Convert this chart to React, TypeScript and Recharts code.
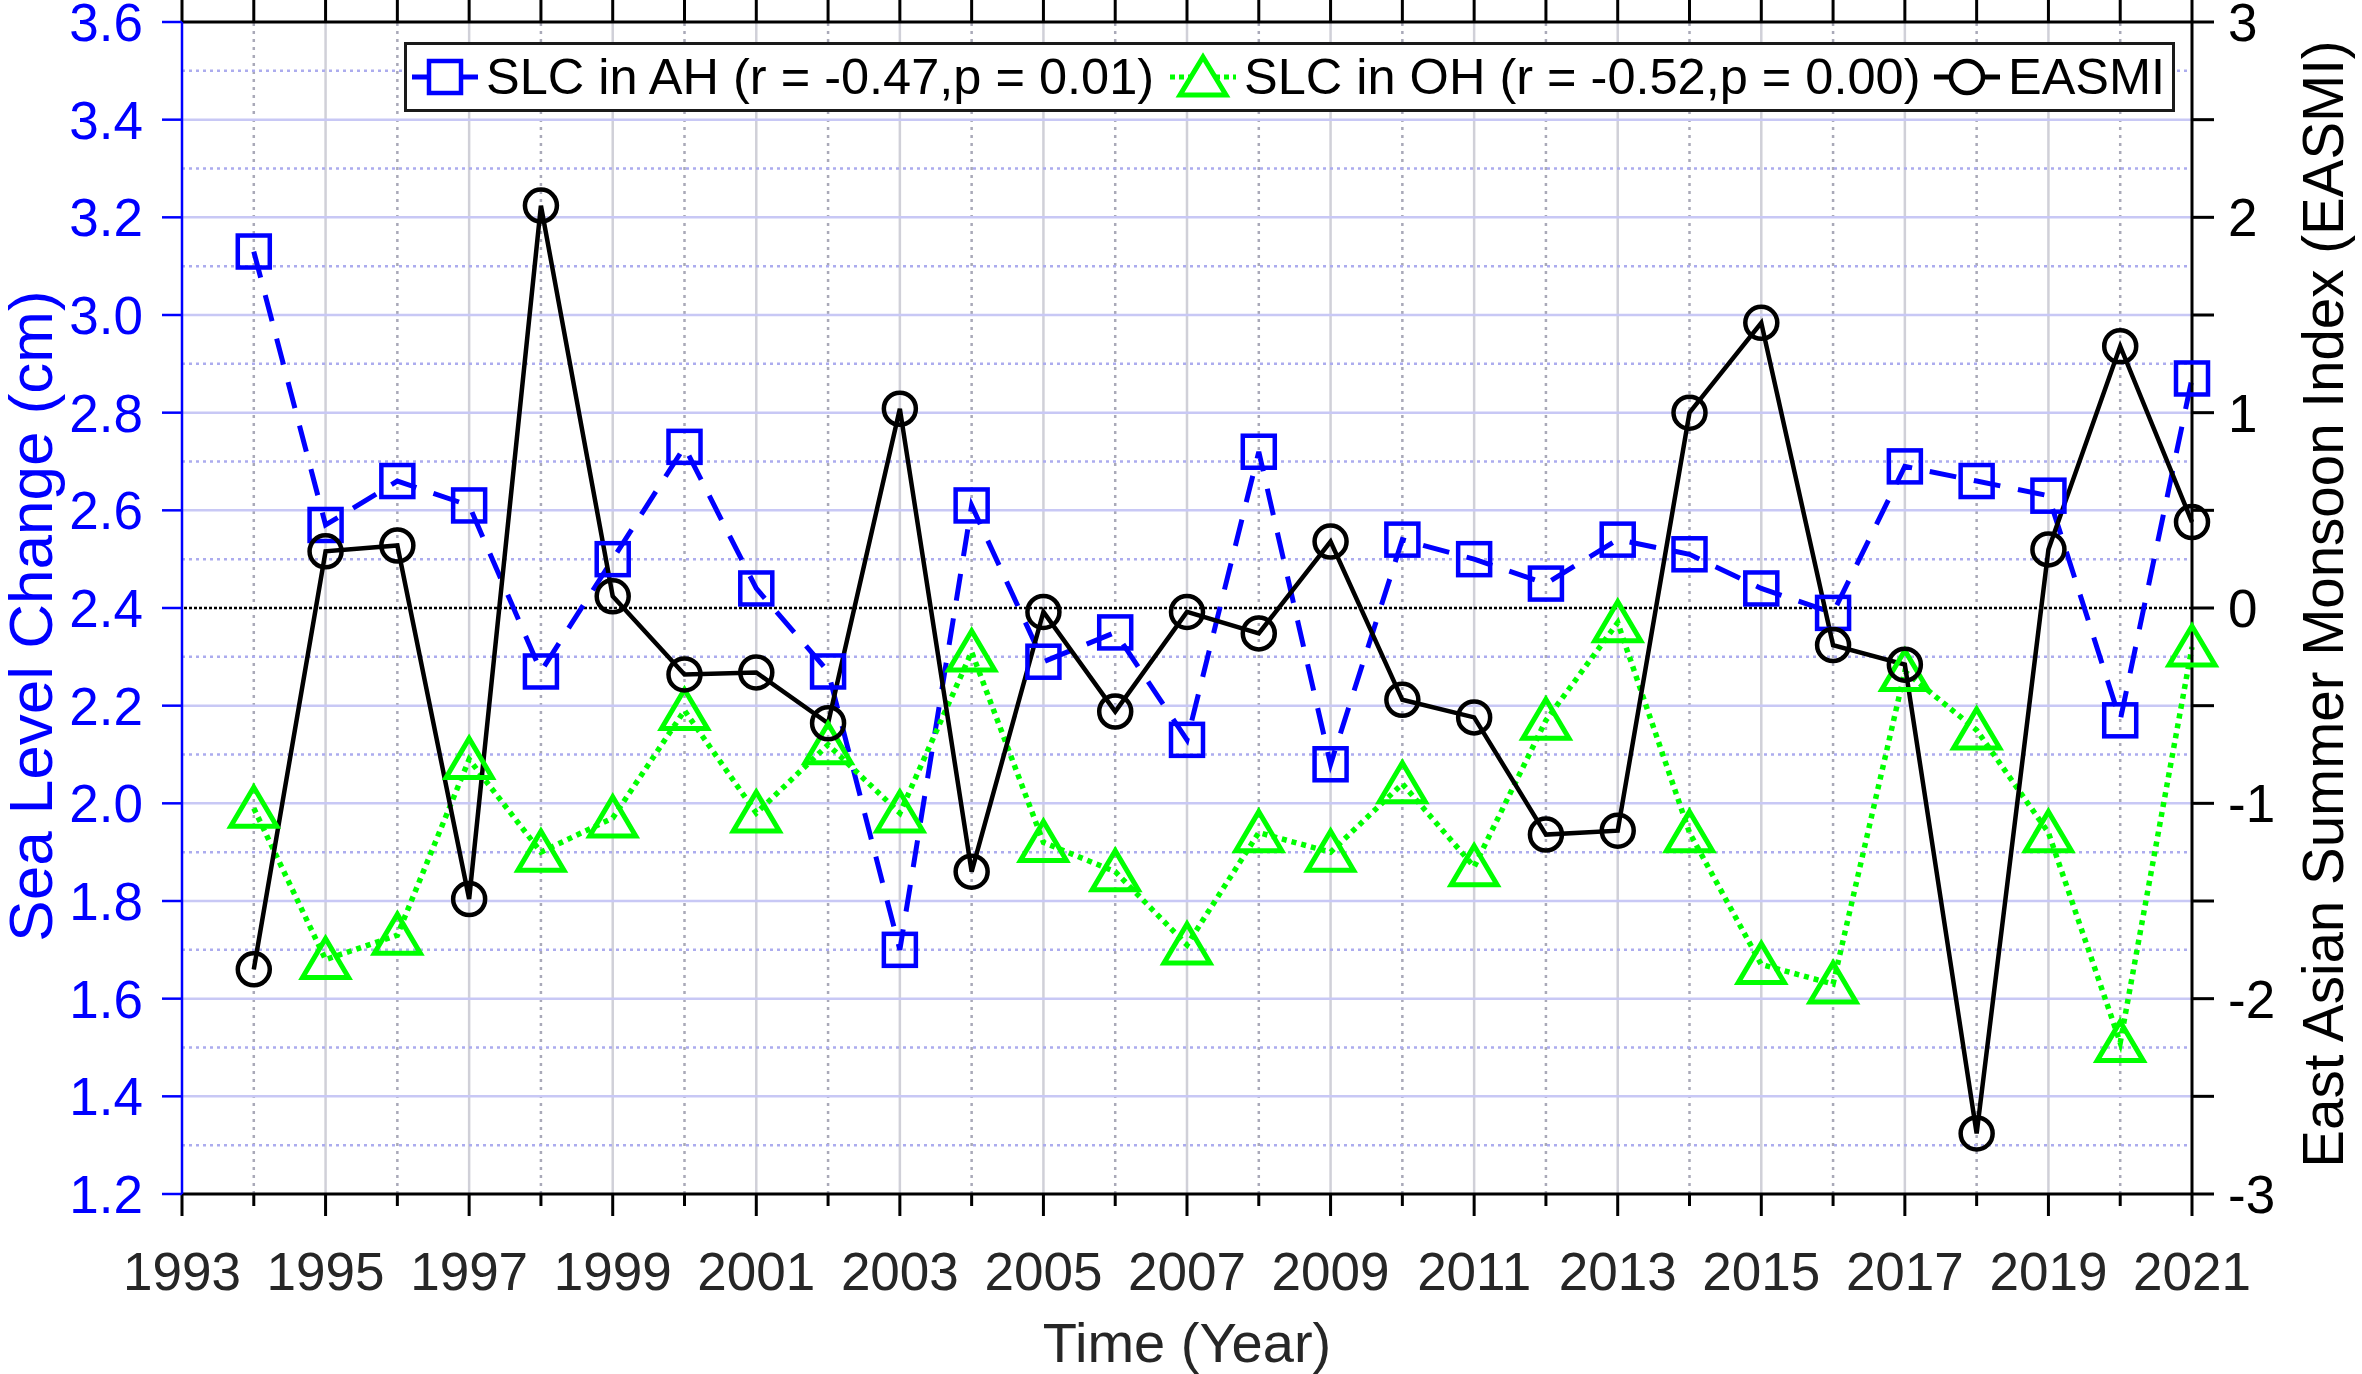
import React from 'react';
import { ComposedChart, Line, XAxis, YAxis, ReferenceLine, Label } from 'recharts';

// values
const years = [
  1994, 1995, 1996, 1997, 1998, 1999, 2000, 2001, 2002, 2003, 2004, 2005, 2006, 2007,
  2008, 2009, 2010, 2011, 2012, 2013, 2014, 2015, 2016, 2017, 2018, 2019, 2020, 2021,
];
const slcAH = [
  3.13, 2.57, 2.66, 2.61, 2.27, 2.5, 2.73, 2.44, 2.27, 1.7, 2.61, 2.29, 2.35, 2.13,
  2.72, 2.08, 2.54, 2.5, 2.45, 2.54, 2.51, 2.44, 2.39, 2.69, 2.66, 2.63, 2.17, 2.87,
];
const slcOH = [
  1.99, 1.68, 1.73, 2.09, 1.9, 1.97, 2.19, 1.98, 2.12, 1.98, 2.31, 1.92, 1.86, 1.71,
  1.94, 1.9, 2.04, 1.87, 2.17, 2.37, 1.94, 1.67, 1.63, 2.27, 2.15, 1.94, 1.51, 2.32,
];
const easmi = [
  -1.85, 0.29, 0.32, -1.49, 2.06, 0.06, -0.34, -0.33, -0.59, 1.02, -1.35, -0.02, -0.53, -0.02,
  -0.13, 0.34, -0.47, -0.56, -1.16, -1.14, 1.0, 1.46, -0.19, -0.29, -2.69, 0.3, 1.34, 0.44,
];

const yearTicks = [
  1993, 1994, 1995, 1996, 1997, 1998, 1999, 2000, 2001, 2002, 2003, 2004, 2005, 2006, 2007,
  2008, 2009, 2010, 2011, 2012, 2013, 2014, 2015, 2016, 2017, 2018, 2019, 2020, 2021,
];
const leftTicks = [1.2, 1.4, 1.6, 1.8, 2.0, 2.2, 2.4, 2.6, 2.8, 3.0, 3.2, 3.4, 3.6];
const rightTicks = [-3, -2.5, -2, -1.5, -1, -0.5, 0, 0.5, 1, 1.5, 2, 2.5, 3];
const gridMajorY = [1.4, 1.6, 1.8, 2.0, 2.2, 2.6, 2.8, 3.0, 3.2, 3.4];
const gridMinorY = [1.3, 1.5, 1.7, 1.9, 2.1, 2.3, 2.5, 2.7, 2.9, 3.1, 3.3, 3.5];
const gridMajorX = [1995, 1997, 1999, 2001, 2003, 2005, 2007, 2009, 2011, 2013, 2015, 2017, 2019];
const gridMinorX = [1994, 1996, 1998, 2000, 2002, 2004, 2006, 2008, 2010, 2012, 2014, 2016, 2018, 2020];

const data = years.map((year, i) => ({ year, ah: slcAH[i], oh: slcOH[i], easmi: easmi[i] }));

const FONT = '"Liberation Sans", Arial, Helvetica, sans-serif';
const BLUE = '#0000ff';
const GREEN = '#00ff00';
const TEXT = '#262626';

const BottomTick = (props: any) => {
  const { x, y, payload } = props;
  const major = payload.value % 2 === 1;
  return (
    <g>
      <line x1={x} y1={y} x2={x} y2={y + (major ? 22 : 12)} stroke="#000" strokeWidth={3} />
      {major && (
        <text x={x} y={y + 96} textAnchor="middle" fontSize={53} fontFamily={FONT} fill={TEXT}>
          {payload.value}
        </text>
      )}
    </g>
  );
};

const TopTick = (props: any) => {
  const { x, y } = props;
  return <line x1={x} y1={y} x2={x} y2={y - 22} stroke="#000" strokeWidth={3} />;
};

const LeftTick = (props: any) => {
  const { x, y, payload } = props;
  return (
    <g>
      <line x1={x - 20} y1={y} x2={x} y2={y} stroke={BLUE} strokeWidth={2.5} />
      <text x={x - 39} y={y} dy="0.36em" textAnchor="end" fontSize={53} fontFamily={FONT} fill={BLUE}>
        {Number(payload.value).toFixed(1)}
      </text>
    </g>
  );
};

const RightTick = (props: any) => {
  const { x, y, payload } = props;
  const v = Number(payload.value);
  return (
    <g>
      <line x1={x} y1={y} x2={x + 22} y2={y} stroke="#000" strokeWidth={3} />
      {Number.isInteger(v) && (
        <text x={x + 36} y={y} dy="0.36em" textAnchor="start" fontSize={53} fontFamily={FONT} fill="#000">
          {v}
        </text>
      )}
    </g>
  );
};

const LeftTitle = (props: any) => {
  const vb = props.viewBox || { x: 0, y: 22, width: 182, height: 1172 };
  const cx = vb.x + 52;
  const cy = vb.y + vb.height / 2 + 8;
  return (
    <text x={cx} y={cy} transform={`rotate(-90 ${cx} ${cy})`} textAnchor="middle" fontSize={62} fontFamily={FONT} fill={BLUE}>
      Sea Level Change (cm)
    </text>
  );
};

const RightTitle = (props: any) => {
  const vb = props.viewBox || { x: 2192, y: 22, width: 170, height: 1172 };
  const cx = vb.x + 151;
  const cy = vb.y + vb.height / 2 - 4;
  return (
    <text x={cx} y={cy} transform={`rotate(-90 ${cx} ${cy})`} textAnchor="middle" fontSize={56.5} fontFamily={FONT} fill="#000">
      East Asian Summer Monsoon Index (EASMI)
    </text>
  );
};

const BottomTitle = (props: any) => {
  const vb = props.viewBox || { x: 182, y: 1194, width: 2010, height: 180 };
  return (
    <text x={vb.x + vb.width / 2} y={vb.y + 168} textAnchor="middle" fontSize={56} fontFamily={FONT} fill={TEXT}>
      Time (Year)
    </text>
  );
};

const squareDot = (props: any) => {
  const { cx, cy, index } = props;
  if (cx == null || cy == null) return <g key={`sq-${index}`} />;
  return (
    <rect key={`sq-${index}`} x={cx - 16} y={cy - 16} width={32} height={32} fill="none" stroke={BLUE} strokeWidth={4.5} />
  );
};

const triangleDot = (props: any) => {
  const { cx, cy, index } = props;
  if (cx == null || cy == null) return <g key={`tr-${index}`} />;
  return (
    <polygon
      key={`tr-${index}`}
      points={`${cx},${cy - 21} ${cx - 23},${cy + 18} ${cx + 23},${cy + 18}`}
      fill="none"
      stroke={GREEN}
      strokeWidth={5}
      strokeLinejoin="miter"
    />
  );
};

const circleDot = (props: any) => {
  const { cx, cy, index } = props;
  if (cx == null || cy == null) return <g key={`ci-${index}`} />;
  return <circle key={`ci-${index}`} cx={cx} cy={cy} r={16} fill="none" stroke="#000" strokeWidth={4.5} />;
};

const legendItems = [
  { label: 'SLC in AH (r = -0.47,p = 0.01)', color: BLUE, dash: '', marker: 'square', left: 5 },
  { label: 'SLC in OH (r = -0.52,p = 0.00)', color: GREEN, dash: '5 4', marker: 'triangle', left: 763 },
  { label: 'EASMI', color: '#000', dash: '', marker: 'circle', left: 1527 },
];

const LegendBox = () => (
  <div
    style={{
      position: 'absolute',
      left: 404,
      top: 42,
      width: 1771,
      height: 70,
      boxSizing: 'border-box',
      border: '3px solid #1a1a1a',
      background: '#fff',
      fontFamily: FONT,
    }}
  >
    {legendItems.map((it) => (
      <div
        key={it.label}
        style={{ position: 'absolute', left: it.left, top: 0, height: 64, display: 'flex', alignItems: 'center' }}
      >
        <svg width={66} height={64}>
          <line x1={0} y1={32} x2={66} y2={32} stroke={it.color} strokeWidth={5} strokeDasharray={it.dash || undefined} />
          {it.marker === 'square' && (
            <rect x={17} y={16} width={32} height={32} fill="#fff" stroke={it.color} strokeWidth={4.5} />
          )}
          {it.marker === 'triangle' && (
            <polygon points="33,12 10,50 56,50" fill="#fff" stroke={it.color} strokeWidth={5} />
          )}
          {it.marker === 'circle' && <circle cx={33} cy={32} r={16} fill="#fff" stroke={it.color} strokeWidth={4.5} />}
        </svg>
        <span style={{ marginLeft: 8, fontSize: 50.5, color: '#000', whiteSpace: 'nowrap', lineHeight: '64px' }}>
          {it.label}
        </span>
      </div>
    ))}
  </div>
);

export default function App() {
  return (
    <div style={{ position: 'absolute', left: 0, top: 0, width: 2362, height: 1374, background: '#fff' }}>
      <ComposedChart width={2362} height={1374} data={data} margin={{ top: 0, right: 0, bottom: 0, left: 0 }}>
        <XAxis
          xAxisId="top"
          orientation="top"
          type="number"
          dataKey="year"
          domain={[1993, 2021]}
          ticks={yearTicks}
          interval={0}
          height={22}
          tickSize={0}
          tickMargin={0}
          tickLine={false}
          tick={TopTick}
          axisLine={{ stroke: '#000', strokeWidth: 3 }}
        />
        <XAxis
          xAxisId="bottom"
          orientation="bottom"
          type="number"
          dataKey="year"
          domain={[1993, 2021]}
          ticks={yearTicks}
          interval={0}
          height={180}
          tickSize={0}
          tickMargin={0}
          tickLine={false}
          tick={BottomTick}
          axisLine={{ stroke: '#000', strokeWidth: 3 }}
        >
          <Label content={BottomTitle} />
        </XAxis>
        <YAxis
          yAxisId="left"
          orientation="left"
          type="number"
          domain={[1.2, 3.6]}
          ticks={leftTicks}
          interval={0}
          width={182}
          tickSize={0}
          tickMargin={0}
          tickLine={false}
          tick={LeftTick}
          axisLine={{ stroke: BLUE, strokeWidth: 2.5 }}
        >
          <Label content={LeftTitle} />
        </YAxis>
        <YAxis
          yAxisId="right"
          orientation="right"
          type="number"
          domain={[-3, 3]}
          ticks={rightTicks}
          interval={0}
          width={170}
          tickSize={0}
          tickMargin={0}
          tickLine={false}
          tick={RightTick}
          axisLine={{ stroke: '#000', strokeWidth: 3 }}
        >
          <Label content={RightTitle} />
        </YAxis>

        {gridMinorX.map((v) => (
          <ReferenceLine key={`vx-${v}`} xAxisId="bottom" yAxisId="left" x={v} stroke="#a9a9b8" strokeWidth={2.5} strokeDasharray="3 5" />
        ))}
        {gridMajorX.map((v) => (
          <ReferenceLine key={`mx-${v}`} xAxisId="bottom" yAxisId="left" x={v} stroke="#d0d0d8" strokeWidth={2.5} />
        ))}
        {gridMinorY.map((v) => (
          <ReferenceLine key={`vy-${v}`} xAxisId="bottom" yAxisId="left" y={v} stroke="#acacee" strokeWidth={2.5} strokeDasharray="3 4" />
        ))}
        {gridMajorY.map((v) => (
          <ReferenceLine key={`my-${v}`} xAxisId="bottom" yAxisId="left" y={v} stroke="#c8c8f5" strokeWidth={2.5} />
        ))}
        <ReferenceLine xAxisId="bottom" yAxisId="right" y={0} stroke="#000" strokeWidth={2.5} strokeDasharray="3 2" />

        <Line
          xAxisId="bottom"
          yAxisId="left"
          type="linear"
          dataKey="ah"
          stroke={BLUE}
          strokeWidth={5}
          strokeDasharray="27 18"
          dot={squareDot}
          activeDot={false}
          isAnimationActive={false}
        />
        <Line
          xAxisId="bottom"
          yAxisId="left"
          type="linear"
          dataKey="oh"
          stroke={GREEN}
          strokeWidth={5.5}
          strokeDasharray="5 5"
          dot={triangleDot}
          activeDot={false}
          isAnimationActive={false}
        />
        <Line
          xAxisId="bottom"
          yAxisId="right"
          type="linear"
          dataKey="easmi"
          stroke="#000"
          strokeWidth={4.5}
          dot={circleDot}
          activeDot={false}
          isAnimationActive={false}
        />
      </ComposedChart>
      <LegendBox />
    </div>
  );
}
